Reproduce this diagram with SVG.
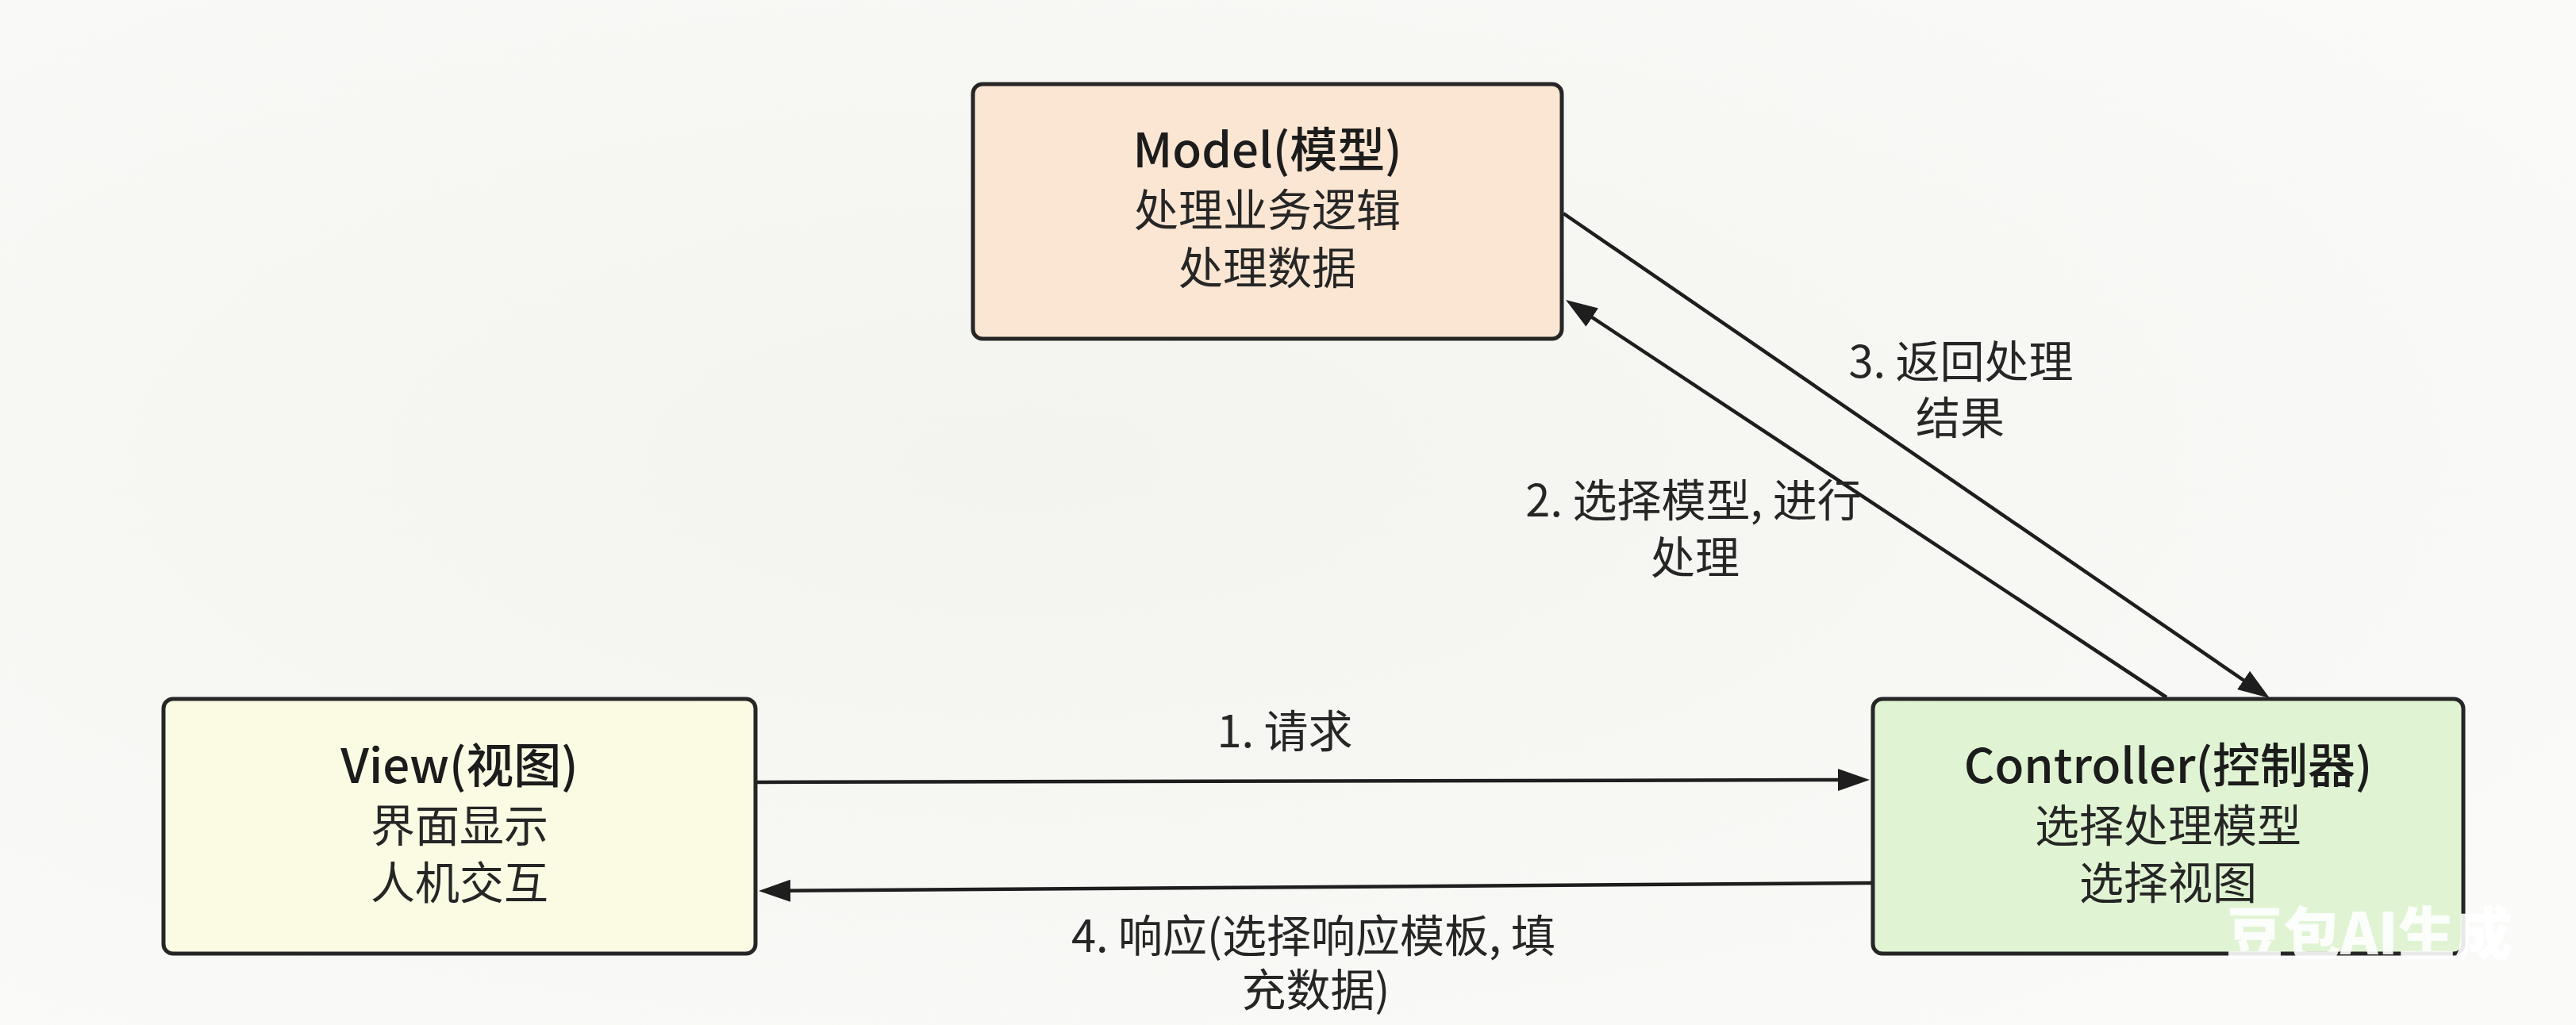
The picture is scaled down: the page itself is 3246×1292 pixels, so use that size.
<svg xmlns="http://www.w3.org/2000/svg" width="3246" height="1292" viewBox="0 0 3246 1292">
  <style>
    .box { stroke: #262626; stroke-width: 5; }
    .title { font-family: "Noto Sans CJK SC", "Noto Sans", sans-serif; font-size: 60px; font-weight: 500; fill: #1c1c1c; }
    .body { font-family: "Noto Sans CJK SC", "Noto Sans", sans-serif; font-size: 56px; font-weight: 400; fill: #262626; }
    .node-text { text-anchor: middle; }
    .lbl { font-family: "Noto Sans CJK SC", "Noto Sans", sans-serif; font-size: 56px; font-weight: 400; fill: #262626; text-anchor: middle; }
    .edge { fill: none; stroke: #1e1e1e; stroke-width: 4.5; }
    .wm { font-family: "Noto Sans CJK SC", sans-serif; font-size: 72px; font-weight: 900; fill: #ffffff; fill-opacity: 0.9; }
  </style>
  <defs>
    <marker id="arrow" markerUnits="userSpaceOnUse" markerWidth="40" markerHeight="28" viewBox="0 0 40 28" refX="10" refY="14" orient="auto">
      <path d="M0,0 L40,14 L0,28 Z" fill="#1e1e1e"/>
    </marker>
    <radialGradient id="bg" cx="0.4" cy="0.45" r="0.7">
      <stop offset="0" stop-color="#f3f3ef"/>
      <stop offset="1" stop-color="#fafaf8"/>
    </radialGradient>
  </defs>
  <rect x="0" y="0" width="3246" height="1292" fill="url(#bg)"/>

  <g id="connectors">
    <path id="e1" class="edge" d="M954,986 L2326,983" marker-end="url(#arrow)"/>
    <path id="e2" class="edge" d="M2730,879 L1998,394.6" marker-end="url(#arrow)"/>
    <path id="e3" class="edge" d="M1970,269 L2835.3,863" marker-end="url(#arrow)"/>
    <path id="e4" class="edge" d="M2358,1113 L986,1122.8" marker-end="url(#arrow)"/>
    <text class="lbl" x="1619" y="942">1. 请求</text>
    <text class="lbl" y="651"><tspan x="2134">2. 选择模型, 进行</tspan><tspan x="2136" dy="72">处理</tspan></text>
    <text class="lbl" y="476"><tspan x="2471">3. 返回处理</tspan><tspan x="2470" dy="71">结果</tspan></text>
    <text class="lbl" y="1200"><tspan x="1655">4. 响应(选择响应模板, 填</tspan><tspan x="1658" dy="68">充数据)</tspan></text>
  </g>

  <g id="model">
    <rect class="box" x="1226" y="106" width="742" height="321" rx="12" fill="#fbe6d3"/>
    <text class="node-text" y="211"><tspan class="title" x="1597">Model(模型)</tspan><tspan class="body" x="1597" dy="74">处理业务逻辑</tspan><tspan class="body" x="1597" dy="73">处理数据</tspan></text>
  </g>

  <g id="view">
    <rect class="box" x="206" y="881" width="746" height="321" rx="12" fill="#fbfbe4"/>
    <text class="node-text" y="987"><tspan class="title" x="579">View(视图)</tspan><tspan class="body" x="579" dy="74">界面显示</tspan><tspan class="body" x="579" dy="72">人机交互</tspan></text>
  </g>

  <g id="controller">
    <rect class="box" x="2360" y="881" width="744" height="321" rx="12" fill="#e0f4d3"/>
    <text class="node-text" y="987"><tspan class="title" x="2732">Controller(控制器)</tspan><tspan class="body" x="2732" dy="74">选择处理模型</tspan><tspan class="body" x="2732" dy="72">选择视图</tspan></text>
  </g>

  <text class="wm" x="2805" y="1203">豆包AI生成</text>
</svg>
